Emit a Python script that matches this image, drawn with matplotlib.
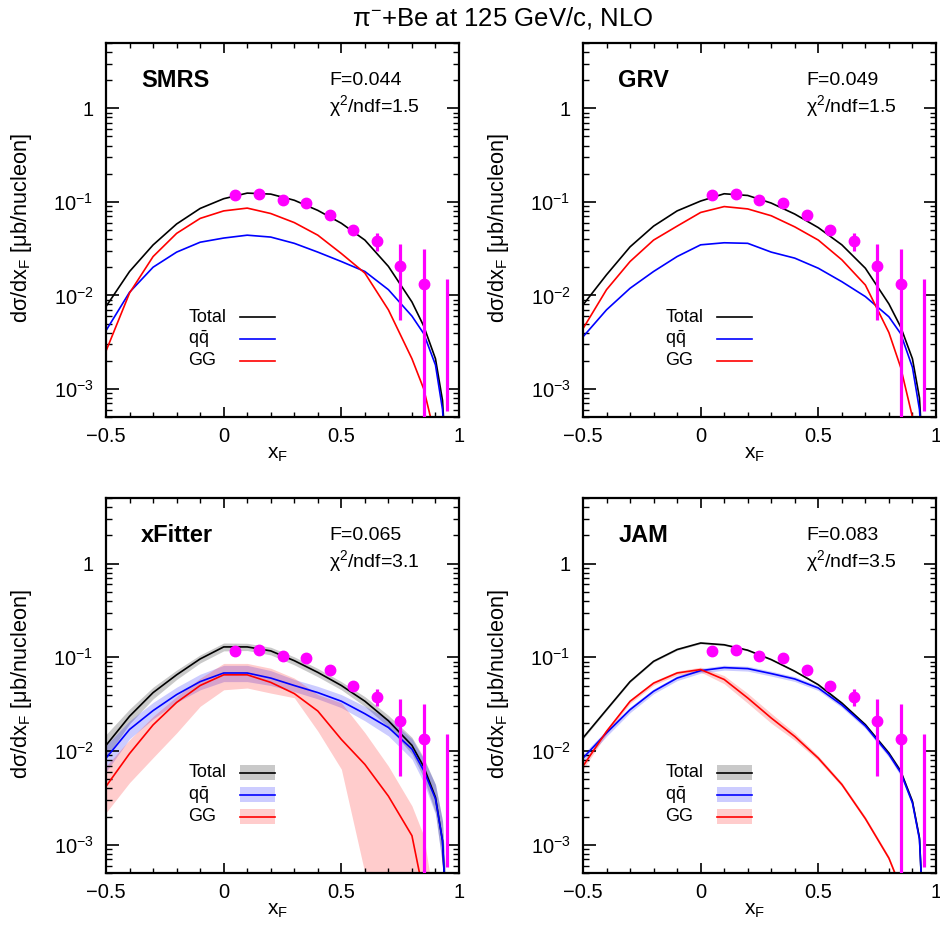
import matplotlib.pyplot as plt
from matplotlib.patches import Rectangle
from matplotlib.ticker import FixedLocator, LogLocator, NullFormatter
import numpy as np

plt.rcParams['font.family'] = ['Liberation Sans', 'DejaVu Sans']
plt.rcParams['mathtext.fontset'] = 'custom'
plt.rcParams['mathtext.rm'] = 'Liberation Sans'
plt.rcParams['mathtext.it'] = 'Liberation Sans:italic'
plt.rcParams['mathtext.bf'] = 'Liberation Sans:bold'

xg = [-0.5, -0.4, -0.3, -0.2, -0.1, 0.0, 0.1, 0.2, 0.3, 0.4, 0.5, 0.6, 0.7, 0.8, 0.85, 0.9, 0.93, 0.95]

# data points (same in all panels)
data_x = [0.05, 0.15, 0.25, 0.35, 0.45, 0.55, 0.65, 0.75, 0.85, 0.95]
data_y = [0.117, 0.120, 0.104, 0.098, 0.073, 0.050, 0.038, 0.0207, 0.0133, 2e-4]
data_lo = [0.113, 0.116, 0.101, 0.095, 0.070, 0.048, 0.030, 0.0054, 1e-5, 5.8e-4]
data_hi = [0.121, 0.124, 0.107, 0.101, 0.076, 0.052, 0.046, 0.0355, 0.0314, 0.0151]

# SMRS
smrs_tot = [0.0076, 0.018, 0.0346, 0.058, 0.085, 0.108, 0.124, 0.121, 0.104, 0.081, 0.059, 0.039, 0.0204, 0.0085, 0.0047, 0.0021, 7.5e-4, 1e-4]
smrs_qq = [0.0042, 0.0108, 0.020, 0.029, 0.037, 0.041, 0.044, 0.042, 0.036, 0.029, 0.023, 0.018, 0.0115, 0.006, 0.0039, 0.0018, 6e-4, 1e-4]
smrs_gg = [0.00254, 0.0106, 0.026, 0.046, 0.0665, 0.080, 0.0857, 0.075, 0.060, 0.044, 0.028, 0.0173, 0.0070, 0.0021, 0.001, 3e-4, 1e-4, 1e-4]

# GRV
grv_tot = [0.0079, 0.0166, 0.033, 0.055, 0.080, 0.102, 0.122, 0.117, 0.097, 0.074, 0.053, 0.0347, 0.0195, 0.0081, 0.0046, 0.0021, 8e-4, 1e-4]
grv_qq = [0.0036, 0.007, 0.0119, 0.018, 0.026, 0.0347, 0.0365, 0.036, 0.029, 0.025, 0.0195, 0.014, 0.0097, 0.0059, 0.0039, 0.0017, 6e-4, 1e-4]
grv_gg = [0.0044, 0.0115, 0.023, 0.039, 0.055, 0.077, 0.089, 0.084, 0.071, 0.054, 0.039, 0.024, 0.0129, 0.004, 0.0017, 5e-4, 1e-4, 1e-4]

# xFitter, central values and bands
xf_tot = [0.0115, 0.0235, 0.042, 0.065, 0.096, 0.129, 0.129, 0.117, 0.092, 0.069, 0.050, 0.034, 0.021, 0.0115, 0.0068, 0.0032, 0.0011, 1e-4]
xf_tot_lo = [0.0085, 0.0195, 0.036, 0.058, 0.087, 0.117, 0.118, 0.106, 0.083, 0.062, 0.045, 0.030, 0.018, 0.0093, 0.0052, 0.0022, 6e-4, 1e-4]
xf_tot_hi = [0.0150, 0.028, 0.048, 0.073, 0.106, 0.142, 0.141, 0.128, 0.101, 0.076, 0.055, 0.038, 0.024, 0.014, 0.0085, 0.0044, 0.0018, 2e-4]
xf_qq = [0.0084, 0.017, 0.027, 0.040, 0.055, 0.068, 0.068, 0.060, 0.050, 0.042, 0.034, 0.025, 0.0178, 0.0105, 0.0062, 0.0031, 0.0011, 1e-4]
xf_qq_lo = [0.0060, 0.0135, 0.022, 0.033, 0.045, 0.055, 0.055, 0.050, 0.043, 0.036, 0.029, 0.021, 0.0145, 0.0082, 0.0046, 0.0021, 6e-4, 1e-4]
xf_qq_hi = [0.0115, 0.021, 0.033, 0.048, 0.066, 0.082, 0.082, 0.072, 0.058, 0.049, 0.040, 0.030, 0.022, 0.0135, 0.0082, 0.0044, 0.0018, 2e-4]
xf_gg = [0.0042, 0.0094, 0.019, 0.033, 0.050, 0.065, 0.065, 0.054, 0.041, 0.0267, 0.0133, 0.0072, 0.0033, 0.00125, 3e-4, 1e-4, 1e-4, 1e-4]
xf_gg_lo = [0.0022, 0.0046, 0.0085, 0.0156, 0.030, 0.045, 0.047, 0.0415, 0.037, 0.0163, 0.0064, 5e-4, 1e-4, 1e-4, 1e-4, 1e-4, 1e-4, 1e-4]
xf_gg_hi = [0.0069, 0.0132, 0.0234, 0.0382, 0.0598, 0.086, 0.086, 0.0764, 0.060, 0.040, 0.0327, 0.0157, 0.0069, 0.0026, 0.00125, 2e-4, 1e-4, 1e-4]

# JAM, central values and relative band half-widths
jam_tot = [0.0138, 0.0276, 0.055, 0.0906, 0.121, 0.142, 0.136, 0.119, 0.0945, 0.071, 0.051, 0.0325, 0.0191, 0.0095, 0.0061, 0.0029, 0.00118, 1e-4]
jam_qq = [0.0084, 0.0156, 0.0276, 0.0434, 0.060, 0.072, 0.0776, 0.0757, 0.067, 0.0587, 0.047, 0.031, 0.0185, 0.0092, 0.0059, 0.0028, 0.00114, 1e-4]
jam_gg = [0.0069, 0.0162, 0.0339, 0.053, 0.068, 0.074, 0.058, 0.0368, 0.0225, 0.0143, 0.0084, 0.0044, 0.0019, 7.2e-4, 3.5e-4, 1e-4, 1e-4, 1e-4]
jam_tot_err = [0.03, 0.02, 0.02, 0.02, 0.02, 0.02, 0.02, 0.02, 0.02, 0.02, 0.02, 0.03, 0.03, 0.04, 0.05, 0.05, 0.05, 0.05]
jam_qq_err = [0.10, 0.08, 0.07, 0.06, 0.06, 0.06, 0.06, 0.06, 0.06, 0.06, 0.06, 0.06, 0.06, 0.07, 0.08, 0.08, 0.08, 0.08]
jam_gg_err = [0.08, 0.06, 0.05, 0.05, 0.05, 0.06, 0.10, 0.12, 0.12, 0.09, 0.06, 0.05, 0.05, 0.05, 0.05, 0.05, 0.05, 0.05]

labels = ['SMRS', 'GRV', 'xFitter', 'JAM']
f_vals = ['0.044', '0.049', '0.065', '0.083']
chi2_vals = ['1.5', '1.5', '3.1', '3.5']
legend_names = ['Total', r'$\mathregular{q\bar{q}}$', 'GG']

xticks = [-0.5, 0, 0.5, 1]
xticklabels = ['\u22120.5', '0', '0.5', '1']
yticks = [1e-3, 1e-2, 1e-1, 1]
yticklabels = [r'$\mathregular{10^{-3}}$', r'$\mathregular{10^{-2}}$', r'$\mathregular{10^{-1}}$', '1']

colors = ['black', '#0000ff', '#ff0000']
band_colors = ['#888888', '#0000ff', '#ff0000']
band_alpha = [0.45, 0.2, 0.2]

fig = plt.figure(figsize=(9.4, 9.3), dpi=100)
pos = [[0.1128, 0.5516, 0.3755, 0.4022], [0.6202, 0.5516, 0.3755, 0.4022],
       [0.1128, 0.0613, 0.3755, 0.4032], [0.6202, 0.0613, 0.3755, 0.4032]]

curves = [[smrs_tot, smrs_qq, smrs_gg], [grv_tot, grv_qq, grv_gg],
          [xf_tot, xf_qq, xf_gg], [jam_tot, jam_qq, jam_gg]]
bands = [None, None,
         [(xf_tot_lo, xf_tot_hi), (xf_qq_lo, xf_qq_hi), (xf_gg_lo, xf_gg_hi)],
         [(np.array(c) * (1 - np.array(e)), np.array(c) * (1 + np.array(e)))
          for c, e in zip([jam_tot, jam_qq, jam_gg], [jam_tot_err, jam_qq_err, jam_gg_err])]]

for i in range(4):
    ax = fig.add_axes(pos[i])
    ax.set_yscale('log')

    if bands[i] is not None:
        for (lo, hi), bc, ba in zip(bands[i], band_colors, band_alpha):
            ax.fill_between(xg, lo, hi, color=bc, alpha=ba, lw=0, zorder=1)
    for c, col in zip(curves[i], colors):
        ax.plot(xg, c, color=col, lw=1.2, zorder=2)

    # data
    ax.vlines(data_x, data_lo, data_hi, color='#ff00ff', lw=2.3, zorder=3)
    ax.plot(data_x, data_y, 'o', color='#ff00ff', ms=7.5, zorder=4)

    ax.set_xlim(-0.5, 1)
    ax.set_ylim(5e-4, 5)

    ax.xaxis.set_major_locator(FixedLocator(xticks))
    ax.set_xticklabels(xticklabels)
    ax.xaxis.set_minor_locator(FixedLocator(np.arange(-0.5, 1.01, 0.1)))
    ax.yaxis.set_major_locator(FixedLocator(yticks))
    ax.set_yticklabels(yticklabels)
    ax.yaxis.set_minor_locator(LogLocator(base=10, subs=np.arange(2, 10)))
    ax.yaxis.set_minor_formatter(NullFormatter())

    ax.tick_params(which='both', direction='in', top=True, right=True, labelsize=14.5)
    ax.tick_params(axis='x', which='major', length=7, width=1.2, pad=7)
    ax.tick_params(axis='x', which='minor', length=3.5, width=1.0)
    ax.tick_params(axis='y', which='major', length=9, width=1.2, pad=9)
    ax.tick_params(axis='y', which='minor', length=4.5, width=1.0)
    for s in ax.spines.values():
        s.set_linewidth(1.6)

    ax.set_xlabel(r'x$_\mathregular{F}$', fontsize=15)
    ax.xaxis.set_label_coords(0.485, -0.075)
    ax.set_ylabel(r'd$\mathregular{\sigma}$/dx$_\mathregular{F}$ [$\mathregular{\mu}$b/nucleon]', fontsize=15.7)
    ax.yaxis.set_label_coords(-0.205, 0.505)

    ax.text(0.10, 0.90, labels[i], transform=ax.transAxes, fontsize=17,
            fontweight='bold', ha='left', va='center')
    ax.text(0.632, 0.90, 'F=' + f_vals[i], transform=ax.transAxes, fontsize=14,
            ha='left', va='center')
    ax.text(0.632, 0.832, r'$\mathregular{\chi^2}$/ndf=' + chi2_vals[i], transform=ax.transAxes,
            fontsize=14, ha='left', va='center')

    # legend drawn by hand: text on the left, line on the right
    for k, (name, col) in enumerate(zip(legend_names, colors)):
        yl = 0.267 - 0.0585 * k
        ax.text(0.233, yl, name, transform=ax.transAxes, fontsize=13, ha='left', va='center')
        if bands[i] is not None:
            ax.add_patch(Rectangle((0.38, yl - 0.02), 0.1, 0.04, transform=ax.transAxes,
                                   color=band_colors[k], alpha=band_alpha[k], lw=0))
        ax.plot([0.38, 0.48], [yl, yl], color=col, lw=1.2, transform=ax.transAxes)

fig.text(0.535, 0.981, r'$\mathregular{\pi^{-}}$+Be at 125 GeV/c, NLO', ha='center', va='center', fontsize=18.5)

fig.savefig('out.png', dpi=100)
